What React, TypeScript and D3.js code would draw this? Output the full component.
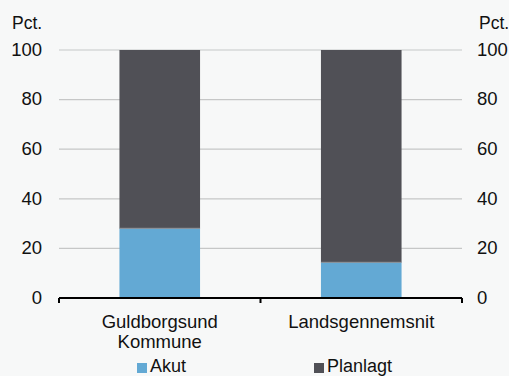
import React from "react";
import * as d3 from "d3";

const categories = ["Guldborgsund\nKommune", "Landsgennemsnit"];
const akut = [28.1, 14.4];
const planlagt = [71.9, 85.6];
const yTicks = [0, 20, 40, 60, 80, 100];
const seriesNames = ["Akut", "Planlagt"];
const colors = ["#63a9d4", "#505056"];

export default function App() {
  const W = 509, H = 376;
  const left = 59, right = 462, top = 50, bottom = 298;
  const x = d3.scaleBand().domain(categories).range([left, right]).paddingInner(0.6).paddingOuter(0.3);
  const xb = d3.scaleBand().domain(categories).range([left, right]);
  const y = d3.scaleLinear().domain([0, 100]).range([bottom, top]);
  const font = "'Liberation Sans', Arial, sans-serif";
  const fs = 18.5;
  return (
    <svg width={W} height={H} style={{ position: "absolute", left: 0, top: 0, background: "#f7f8f8" }} fontFamily={font} fontSize={fs}>
      <rect x={0} y={0} width={W} height={H} fill="#f7f8f8" />
      {yTicks.filter(t => t > 0).map(t => (
        <line key={t} x1={left} x2={right} y1={y(t)} y2={y(t)} stroke="#c6c7c7" strokeWidth={1.2} />
      ))}
      {categories.map((c, i) => {
        const bx = x(c)!;
        const bw = x.bandwidth();
        const y0 = y(0), y1 = y(akut[i]), y2 = y(akut[i] + planlagt[i]);
        return (
          <g key={c}>
            <rect x={bx} y={y1} width={bw} height={y0 - y1} fill={colors[0]} />
            <rect x={bx} y={y2} width={bw} height={y1 - y2} fill={colors[1]} />
            <line x1={bx} x2={bx + bw} y1={y1} y2={y1} stroke="#8d9096" strokeWidth={1} />
          </g>
        );
      })}
      <line x1={left} x2={right} y1={bottom} y2={bottom} stroke="#000" strokeWidth={2} />
      {[left, ...categories.map(c => xb(c)! + xb.bandwidth())].map((tx, i) => (
        <line key={i} x1={tx} x2={tx} y1={bottom} y2={bottom + 5} stroke="#000" strokeWidth={2} />
      ))}
      {yTicks.map(t => (
        <g key={t}>
          <text x={42} y={y(t)} dy={5.8} textAnchor="end" fill="#111">{t}</text>
          <text x={477} y={y(t)} dy={5.8} textAnchor="start" fill="#111">{t}</text>
        </g>
      ))}
      <text x={12} y={29} fill="#111" fontSize={17.5}>Pct.</text>
      <text x={479} y={29} fill="#111" fontSize={17.5}>Pct.</text>
      {categories.map(c => {
        const cx = xb(c)! + xb.bandwidth() / 2;
        const lines = c.split("\n");
        return (
          <text key={c} x={cx} y={327.5} textAnchor="middle" fill="#111">
            {lines.map((l, j) => (
              <tspan key={j} x={cx} dy={j === 0 ? 0 : 20.7}>{l}</tspan>
            ))}
          </text>
        );
      })}
      {seriesNames.map((s, i) => {
        const lx = i === 0 ? 137 : 314;
        return (
          <g key={s}>
            <rect x={lx} y={363} width={10} height={10} fill={colors[i]} />
            <text x={lx + 13} y={372} fontSize={18} fill="#111">{s}</text>
          </g>
        );
      })}
    </svg>
  );
}
